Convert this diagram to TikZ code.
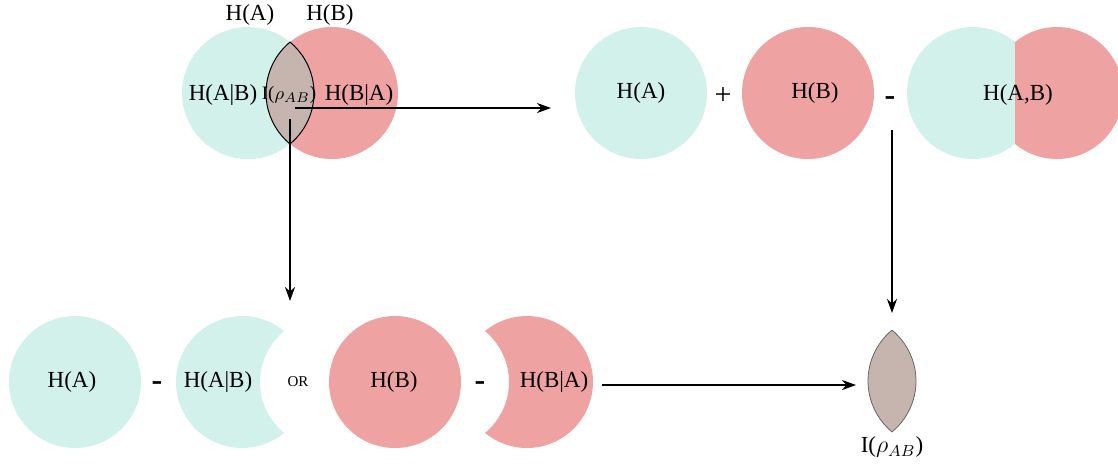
\documentclass[tikz,border=0pt]{standalone}
\usepackage{fontspec}
\setmainfont{Liberation Serif}
\usetikzlibrary{arrows.meta}
\definecolor{cA}{HTML}{D2F1EA}
\definecolor{cB}{HTML}{EEA2A2}
\definecolor{cL}{HTML}{C5B5AE}
\tikzset{
  circA/.style={circle, fill=cA, minimum size=66pt, inner sep=0pt},
  circB/.style={circle, fill=cB, minimum size=66pt, inner sep=0pt},
  lbl/.style={font=\fontsize{11.5}{13}\selectfont, inner sep=0pt},
  small/.style={font=\fontsize{9.5}{10}\selectfont, inner sep=0pt},
  tiny/.style={font=\fontsize{7.5}{8}\selectfont, inner sep=0pt},
  minus/.style={font=\fontsize{16}{16}\selectfont\bfseries, inner sep=0pt},
  plus/.style={font=\fontsize{15}{16}\selectfont, inner sep=0pt},
  arr/.style={line width=0.9pt, -{Stealth[length=7pt,width=5pt,inset=2.2pt]}},
  lensA/.style={fill=cL, draw=black, line width=0.5pt},
  lensB/.style={fill=cL, draw=black!60, line width=0.4pt}
}
\begin{document}
\begin{tikzpicture}[x=0.5pt,y=-0.5pt]
\useasboundingbox (0,0) rectangle (1118,463);
\clip (0,0) rectangle (1118,463);

% ---------- top-left Venn ----------
\node[circA] (vA) at (248,93) {};
\node[circB] (vB) at (332,93) {};
\path[lensA] (290,42.1) arc[start angle=129.52, end angle=230.48, radius=33pt]
  arc[start angle=-50.48, end angle=50.48, radius=33pt] -- cycle;
\node[lbl] (tHA) at (250,15) {H(A)};
\node[lbl] (tHB) at (330,15) {H(B)};
\node[lbl] (tAB) at (223,95) {H(A|B)};
\node[small] (tI) at (289,95) {I($\rho_{AB}$)};
\node[lbl] (tBA) at (359,95) {H(B|A)};

% ---------- top-right ----------
\node[circA] (rA) at (641,93) {};
\node[lbl] at (rA.center) {H(A)};
\node[plus] (pl) at (723,96) {+};
\node[circB] (rB) at (808,93) {};
\node[lbl] at (815,93) {H(B)};
\node[minus] (m1) at (890,101) {-};
\begin{scope}
  \clip (900,0) rectangle (1015,463);
  \fill[cA] (973,93) circle[radius=33pt];
\end{scope}
\begin{scope}
  \clip (1015,0) rectangle (1118,463);
  \fill[cB] (1057,93) circle[radius=33pt];
\end{scope}
\node[lbl] (tJ) at (1018,95) {H(A,B)};

% ---------- bottom row ----------
\node[circA] (bA) at (75,382) {};
\node[lbl] at (72,382) {H(A)};
\node[minus] (m2) at (157,386) {-};
\fill[cA] (284,331.1) arc[start angle=50.48, end angle=309.52, radius=33pt]
  arc[start angle=230.48, end angle=129.52, radius=33pt] -- cycle;
\node[lbl] (tAB2) at (218,382) {H(A|B)};
\node[tiny] (or) at (298,382) {OR};
\node[circB] (bB) at (395,382) {};
\node[lbl] at (394,382) {H(B)};
\node[minus] (m3) at (480,386) {-};
\fill[cB] (485,331.1) arc[start angle=129.52, end angle=-129.52, radius=33pt]
  arc[start angle=-50.48, end angle=50.48, radius=33pt] -- cycle;
\node[lbl] (tBA2) at (554,382) {H(B|A)};

% ---------- result lens ----------
\path[lensB] (892,330.1) arc[start angle=129.52, end angle=230.48, radius=33pt]
  arc[start angle=-50.48, end angle=50.48, radius=33pt] -- cycle;
\node[lbl] (tI2) at (892,447) {I($\rho_{AB}$)};

% ---------- connectors ----------
\coordinate (s1) at (295,108);
\coordinate (e1) at (551,108);
\coordinate (s2) at (290,119);
\coordinate (e2) at (290,301);
\coordinate (s3) at (892,130);
\coordinate (e3) at (892,313);
\coordinate (s4) at (602,385);
\coordinate (e4) at (856,385);
\draw[arr] (s1) -- (e1);
\draw[arr] (s2) -- (e2);
\draw[arr] (s3) -- (e3);
\draw[arr] (s4) -- (e4);
\end{tikzpicture}
\end{document}
